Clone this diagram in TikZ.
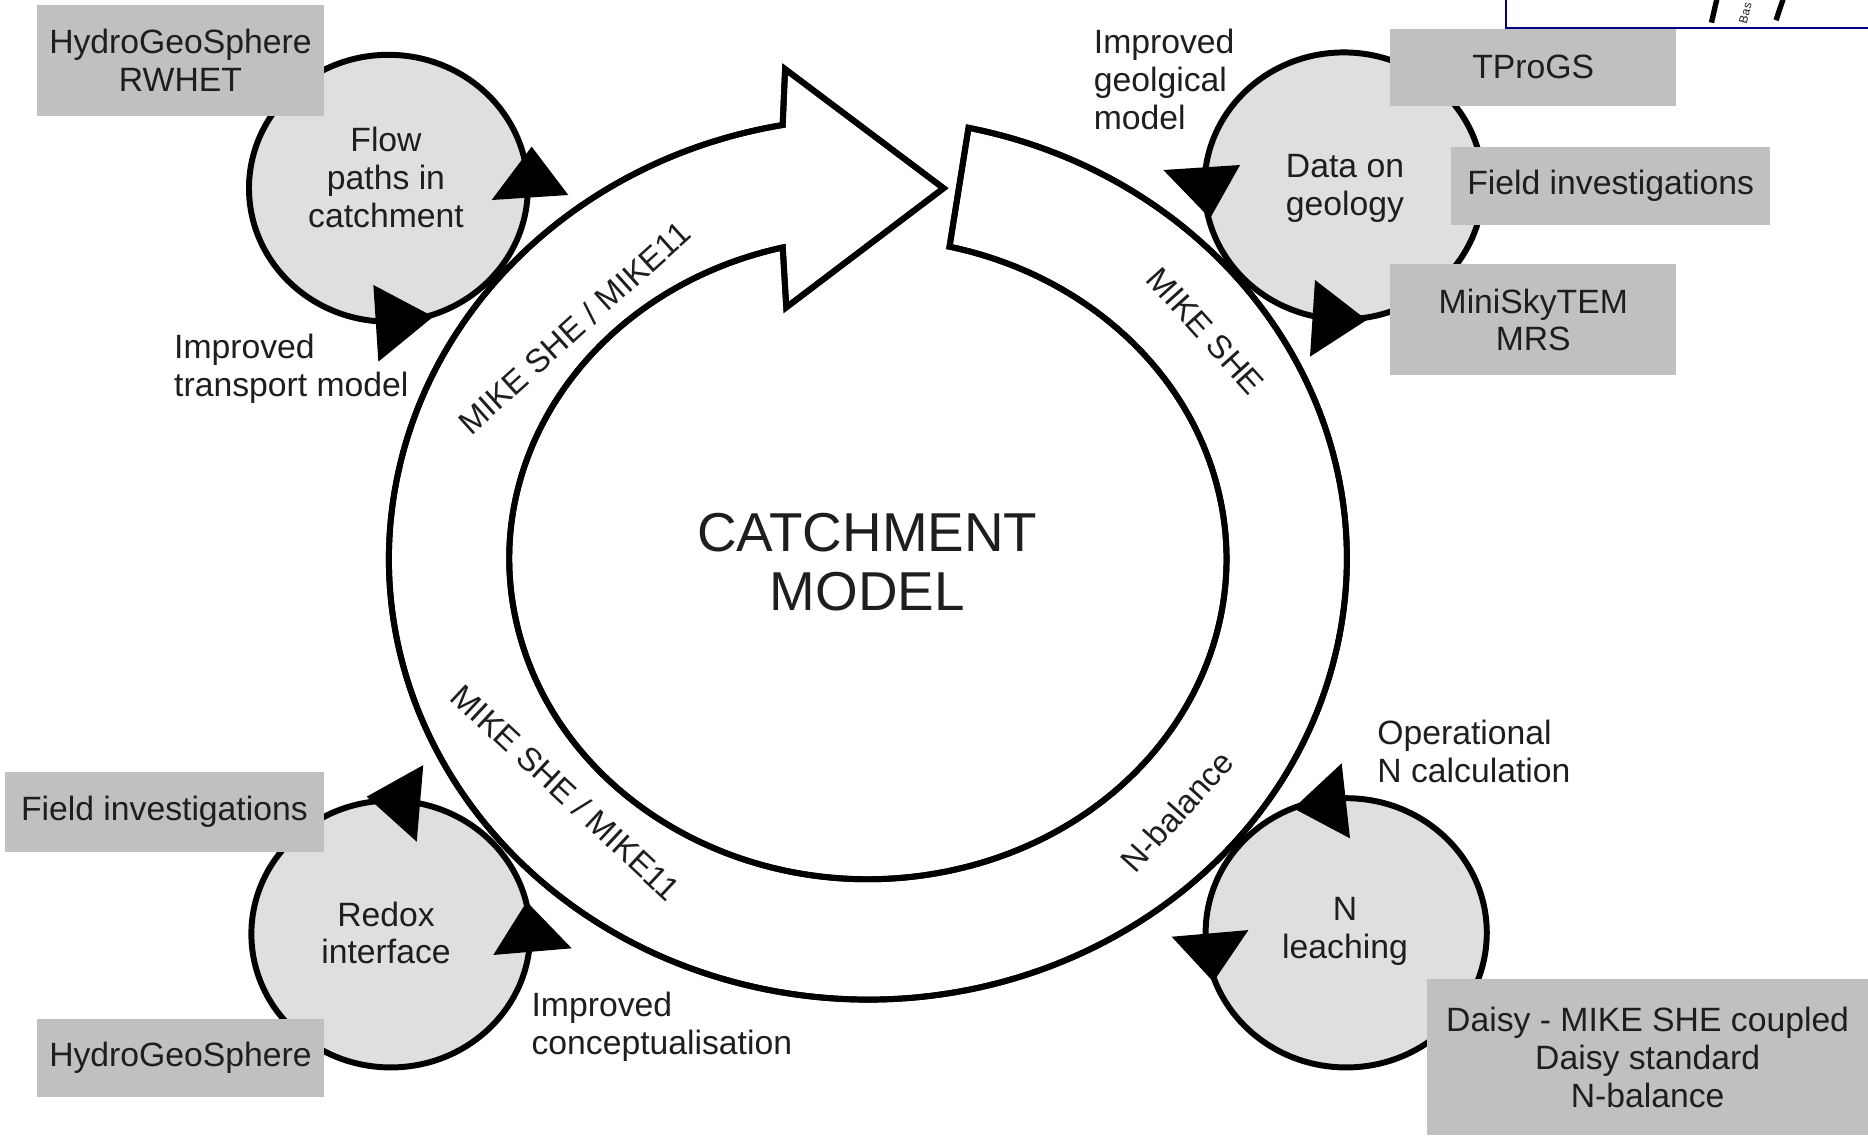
\documentclass[tikz,border=0pt]{standalone}
\usepackage{fontspec}
\setmainfont{Liberation Sans}
\usetikzlibrary{calc}
\definecolor{boxgray}{HTML}{C0C0C0}
\definecolor{circgray}{HTML}{DFDFDF}
\definecolor{txt}{HTML}{1E1E1E}
\definecolor{navyc}{HTML}{000080}
\begin{document}
\begin{tikzpicture}[x=1pt,y=-1pt,
  fnt/.style={font=\fontsize{28.3}{31.6}\selectfont},
  box/.style={fnt, fill=boxgray, inner sep=0pt, align=center, text=txt},
  lbl/.style={fnt, inner sep=0pt, align=left, anchor=west, text=txt},
  ctxt/.style={fnt, inner sep=0pt, align=center, text=txt},
  ringlbl/.style={font=\fontsize{27.5}{30}\selectfont, inner sep=0pt, text=txt},
  outl/.style={draw=black, line width=5pt, line join=miter},
  circ/.style={fill=circgray, draw=black, line width=5pt},
  tri/.style={fill=black}]
\useasboundingbox (0,0) rectangle (1568,953);
\coordinate (c) at (728.5,469);
% ring band (white fill)
\path[fill=white, outl] ($(c)+(-77.87:402 and 370)$) arc[start angle=-77.87, end angle=259.75, x radius=402, y radius=370] -- (659,58) -- (792,158) -- (660,258) -- ($(c)+(256.26:301 and 269)$) arc[start angle=256.26, end angle=-76.84, x radius=301, y radius=269] -- cycle;
% small circles
\path[circ] (326,158) ellipse [x radius=117, y radius=112];
\path[circ] (1128,156) ellipse [x radius=117, y radius=112];
\path[circ] (328,784) ellipse [x radius=117, y radius=112];
\path[circ] (1130,783) ellipse [x radius=118, y radius=113];
% arrowheads
\fill[tri] (412.7,167.9) -- (477,163.7) -- (446.3,123.1) -- cycle;
\fill[tri] (313.4,239.2) -- (363.7,265.8) -- (317.6,303.6) -- cycle;
\fill[tri] (976.5,142.7) -- (1040.9,138.5) -- (1015.7,183.3) -- cycle;
\fill[tri] (1103.8,235) -- (1147.2,268.6) -- (1099.6,299.4) -- cycle;
\fill[tri] (307.8,668.7) -- (355.3,642.2) -- (349.8,706.5) -- cycle;
\fill[tri] (414.1,801.6) -- (479.9,796) -- (442.1,756.9) -- cycle;
\fill[tri] (1085.7,678.5) -- (1126.2,640.7) -- (1133.2,703.7) -- cycle;
\fill[tri] (983.5,786.3) -- (1047.9,780.7) -- (1018.5,824.1) -- cycle;
% ring outline on top
\path[outl] ($(c)+(-77.87:402 and 370)$) arc[start angle=-77.87, end angle=259.75, x radius=402, y radius=370] -- (659,58) -- (792,158) -- (660,258) -- ($(c)+(256.26:301 and 269)$) arc[start angle=256.26, end angle=-76.84, x radius=301, y radius=269] -- cycle;
% boxes
\node[box, minimum width=241, minimum height=93] (hgs1) at (151.5,50.5) {HydroGeoSphere\\RWHET};
\node[box, minimum width=240, minimum height=65] (tprogs) at (1287,56.5) {TProGS};
\node[box, minimum width=268, minimum height=66] (fieldr) at (1352,156) {Field investigations};
\node[box, minimum width=240, minimum height=93] (mini) at (1287,268.5) {MiniSkyTEM\\MRS};
\node[box, minimum width=268, minimum height=67] (fieldl) at (138,681.5) {Field investigations};
\node[box, minimum width=241, minimum height=66] (hgs2) at (151.5,888) {HydroGeoSphere};
\node[box, minimum width=370, minimum height=131] (daisy) at (1383,887.5) {Daisy - MIKE SHE coupled\\Daisy standard\\N-balance};
% circle texts
\node[ctxt] (flow) at (324,149) {Flow\\paths in\\catchment};
\node[ctxt] (geo) at (1129,158) {Data on\\geology};
\node[ctxt] (redox) at (324,783) {Redox\\interface};
\node[ctxt] (nleach) at (1129,782) {N\\leaching};
% labels
\node[lbl] (igm) at (918,66.7) {Improved\\geolgical\\model};
\node[lbl] (itm) at (146,309.5) {Improved\\transport model};
\node[lbl] (onc) at (1156,631) {Operational\\N calculation};
\node[lbl] (icc) at (446,862) {Improved\\conceptualisation};
% ring labels
\node[ringlbl, rotate=42] (r1) at (482,275) {MIKE SHE / MIKE11};
\node[ringlbl, rotate=-48] (r2) at (1012,278) {MIKE SHE};
\node[ringlbl, rotate=-43] (r3) at (475,665) {MIKE SHE / MIKE11};
\node[ringlbl, rotate=48] (r4) at (988,681) {N-balance};
% centre
\node[font=\fontsize{46}{50}\selectfont, align=center, text=txt, inner sep=0pt] (cm) at (728,472) {CATCHMENT\\MODEL};
% top-right fragment
\coordinate (f1) at (1264,-5);
\coordinate (f2) at (1264,23.6);
\coordinate (f3) at (1575,23.6);
\draw[navyc, line width=2.2pt] (f1) -- (f2) -- (f3);
\coordinate (s1a) at (1441.6,-3);
\coordinate (s1b) at (1436.6,19);
\coordinate (s2a) at (1497.5,-3);
\coordinate (s2b) at (1490.8,17);
\draw[line width=4.5pt] (s1a) -- (s1b);
\draw[line width=4.5pt] (s2a) -- (s2b);
\node[font=\fontsize{10}{12}\selectfont, text=txt, rotate=75, inner sep=0pt] (bas) at (1465,11) {Bas};
\end{tikzpicture}
\end{document}
